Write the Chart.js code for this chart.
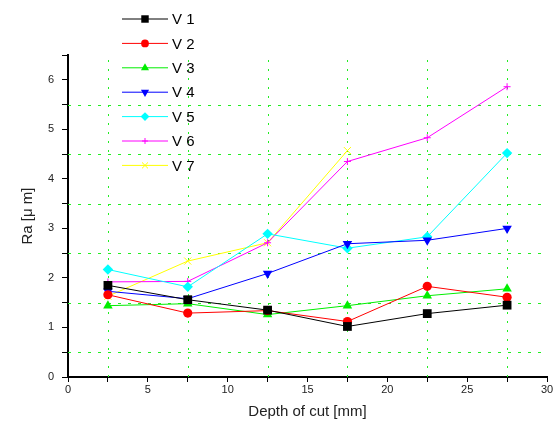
<!DOCTYPE html>
<html>
<head>
<meta charset="utf-8">
<script src="https://cdn.jsdelivr.net/npm/chart.js@4/dist/chart.umd.min.js"></script>
<style>
  html, body { margin: 0; padding: 0; background: #fff; }
  #wrap { width: 556px; height: 430px; }
</style>
</head>
<body>
<div id="wrap"><canvas id="myChart" width="556" height="430"></canvas></div>
<script>
// depth of cut [mm]
var depth = [2.5, 7.5, 12.5, 17.5, 22.5, 27.5];

// Ra values per series
var v1 = [1.85, 1.56, 1.35, 1.02, 1.28, 1.45];
var v2 = [1.66, 1.29, 1.34, 1.12, 1.83, 1.61];
var v3 = [1.44, 1.48, 1.26, 1.44, 1.64, 1.78];
var v4 = [1.73, 1.58, 2.09, 2.69, 2.76, 3.0];
var v5 = [2.17, 1.82, 2.89, 2.6, 2.83, 4.52];
var v6 = [1.92, 1.93, 2.71, 4.35, 4.83, 5.86];
var v7 = [1.63, 2.34, 2.71, 4.57];

var seriesNames = ["V 1", "V 2", "V 3", "V 4", "V 5", "V 6", "V 7"];
var seriesColors = ["#000000", "#ff0000", "#00ee00", "#0000ff", "#00ffff", "#ff00ff", "#ffff00"];
var pointStyles = ["rect", "circle", "triangle", "triangle", "rectRot", "cross", "crossRot"];
var pointRotations = [0, 0, 0, 180, 0, 0, 0];
var pointSizes = [6.2, 4.6, 5.5, 5.5, 5.2, 3.5, 5];

var yTicks = [0, 1, 2, 3, 4, 5, 6];
var xTicks = [0, 5, 10, 15, 20, 25, 30];

var gridGreen = "#22ee22";

function toPoints(values) {
  return values.map(function (v, i) {
    return { x: depth[i], y: v };
  });
}

var allValues = [v1, v2, v3, v4, v5, v6, v7];

var datasets = allValues.map(function (vals, i) {
  var isCross = pointStyles[i] === "cross" || pointStyles[i] === "crossRot";
  return {
    label: seriesNames[i],
    data: toPoints(vals),
    borderColor: seriesColors[i],
    backgroundColor: seriesColors[i],
    borderWidth: 1,
    pointStyle: pointStyles[i],
    pointRotation: pointRotations[i],
    pointRadius: pointSizes[i],
    pointHoverRadius: pointSizes[i],
    pointBorderWidth: isCross ? 1 : 0,
    pointBorderColor: seriesColors[i],
    pointBackgroundColor: seriesColors[i],
    tension: 0,
    fill: false
  };
});

// dotted green lines at the minor (unlabelled) ticks
var minorGrid = {
  id: "minorGrid",
  beforeDatasetsDraw: function (chart) {
    var c = chart.ctx;
    var area = chart.chartArea;
    var xs = chart.scales.x, ys = chart.scales.y;
    c.save();
    c.strokeStyle = gridGreen;
    c.lineWidth = 1;
    c.setLineDash([2, 7]);
    xs.ticks.forEach(function (t) {
      if (xTicks.indexOf(t.value) >= 0) return;
      var px = Math.round(xs.getPixelForValue(t.value)) + 0.5;
      c.beginPath();
      c.moveTo(px, area.bottom);
      c.lineTo(px, area.top);
      c.stroke();
    });
    c.setLineDash([3, 7]);
    ys.ticks.forEach(function (t) {
      if (yTicks.indexOf(t.value) >= 0 || t.value === 6.5) return;
      var py = Math.round(ys.getPixelForValue(t.value)) + 0.5;
      c.beginPath();
      c.moveTo(area.left, py);
      c.lineTo(area.right, py);
      c.stroke();
    });
    c.restore();
  }
};

// legend drawn in the top-left corner, partly above the plot like the original
var cornerLegend = {
  id: "cornerLegend",
  afterDraw: function (chart) {
    var c = chart.ctx;
    var x0 = 122, x1 = 168, mx = 145, tx = 172;
    var y = 19, step = 24.4;
    c.save();
    chart.data.datasets.forEach(function (ds, i) {
      var yy = y + i * step;
      c.strokeStyle = ds.borderColor;
      c.lineWidth = 1;
      c.setLineDash([]);
      c.beginPath();
      c.moveTo(x0, yy);
      c.lineTo(x1, yy);
      c.stroke();
      c.fillStyle = ds.backgroundColor;
      c.strokeStyle = ds.borderColor;
      c.lineWidth = ds.pointBorderWidth || 1;
      Chart.helpers.drawPoint(c, {
        pointStyle: ds.pointStyle,
        rotation: ds.pointRotation,
        radius: ds.pointRadius * 0.85,
        borderWidth: ds.pointBorderWidth
      }, mx, yy);
      c.fillStyle = "#000";
      c.font = "15px 'Liberation Sans', Arial, sans-serif";
      c.textBaseline = "middle";
      c.textAlign = "left";
      c.fillText(ds.label, tx, yy + 1);
    });
    c.restore();
  }
};

var tickFont = { family: "'Liberation Sans', Arial, sans-serif", size: 11 };
var titleFont = { family: "'Liberation Sans', Arial, sans-serif", size: 15 };

const ctx = document.getElementById("myChart");

new Chart(ctx, {
  type: "line",
  data: { datasets: datasets },
  options: {
    responsive: false,
    animation: false,
    layout: { padding: { top: 55, right: 9, left: 0, bottom: 0 } },
    plugins: {
      legend: { display: false },
      tooltip: { enabled: false }
    },
    scales: {
      x: {
        type: "linear",
        min: 0,
        max: 30,
        afterFit: function (scale) { scale.height = 53; },
        ticks: {
          stepSize: 2.5,
          autoSkip: false,
          maxRotation: 0,
          padding: 1,
          color: "#222",
          font: tickFont,
          callback: function (v) { return xTicks.indexOf(v) >= 0 ? String(v) : ""; }
        },
        grid: {
          drawOnChartArea: false,
          tickColor: "#000",
          tickLength: 5,
          lineWidth: 1
        },
        border: { color: "#000", width: 2 },
        title: {
          display: true,
          text: "Depth of cut [mm]",
          color: "#222",
          font: titleFont,
          padding: { top: 0, bottom: 9 }
        }
      },
      y: {
        type: "linear",
        min: 0,
        max: 6.5,
        afterFit: function (scale) { scale.width = 68; },
        ticks: {
          stepSize: 0.5,
          autoSkip: false,
          padding: 8,
          color: "#222",
          font: tickFont,
          callback: function (v) { return yTicks.indexOf(v) >= 0 ? String(v) : ""; }
        },
        grid: {
          drawOnChartArea: false,
          tickColor: "#000",
          tickLength: 6,
          lineWidth: 1
        },
        border: { color: "#000", width: 2 },
        title: {
          display: true,
          text: "Ra [μ m]",
          color: "#222",
          font: titleFont,
          padding: { top: 19, bottom: 0 }
        }
      }
    }
  },
  plugins: [minorGrid, cornerLegend]
});
</script>
</body>
</html>
